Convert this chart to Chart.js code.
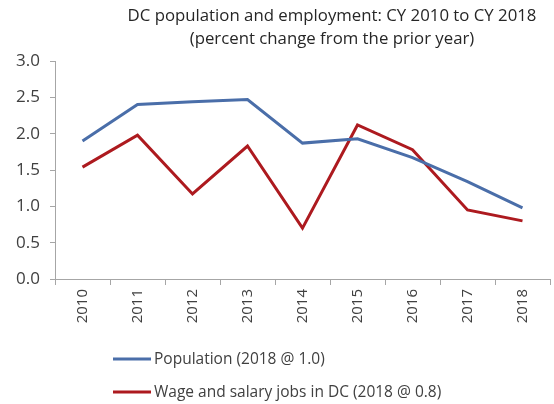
<!DOCTYPE html>
<html>
<head>
<meta charset="utf-8">
<script src="https://cdn.jsdelivr.net/npm/chart.js@4"></script>
<style>
    html, body { margin: 0; padding: 0; background: #fff; }
    #wrap { width: 554px; height: 404px; }
</style>
</head>
<body>
<div id="wrap"><canvas id="ctx"></canvas></div>
<script>
// 年度
let years = ['2010', '2011', '2012', '2013', '2014', '2015', '2016', '2017', '2018'];
// 人口年增率 (%)
let population = [1.90, 2.40, 2.44, 2.47, 1.87, 1.93, 1.67, 1.34, 0.98];
// 就業人數年增率 (%)
let jobs = [1.54, 1.98, 1.17, 1.83, 0.70, 2.12, 1.78, 0.95, 0.80];
// 標題文字
let title_lines = ['DC population and employment: CY 2010 to CY 2018', '(percent change from the prior year)'];
// 圖例文字
let series_names = ['Population (2018 @ 1.0)', 'Wage and salary jobs in DC (2018 @ 0.8)'];
// y 軸刻度
let y_ticks = [0, 0.5, 1, 1.5, 2, 2.5, 3];

let font_family = '"Open Sans", "DejaVu Sans", sans-serif';
let axis_color = '#a6a6a6';
let text_color = '#404040';

// 自繪標題與直列圖例
let titleLegend = {
    id: 'titleLegend',
    afterDraw(chart) {
        let c = chart.ctx;
        c.save();
        c.fillStyle = '#262626';
        c.font = '16.8px ' + font_family;
        c.textAlign = 'center';
        c.textBaseline = 'middle';
        title_lines.forEach((t, i) => c.fillText(t, 332, 16 + i * 23));

        // 圖例：每個資料集一列
        c.textAlign = 'left';
        c.font = '15.5px ' + font_family;
        chart.data.datasets.forEach((ds, i) => {
            let y = 359 + i * 33;
            c.strokeStyle = ds.borderColor;
            c.lineWidth = 3;
            c.beginPath();
            c.moveTo(113, y);
            c.lineTo(151, y);
            c.stroke();
            c.fillStyle = text_color;
            c.fillText(ds.label, 154, y + 1);
        });
        c.restore();
    }
};

let config = {
    type: 'line',
    data: {
        labels: years,
        datasets: [{
            label: series_names[0],
            data: population,
            borderColor: '#4a6ea9',
            borderWidth: 3,
            pointRadius: 0,
            tension: 0,
        }, {
            label: series_names[1],
            data: jobs,
            borderColor: '#ad1a1f',
            borderWidth: 3,
            pointRadius: 0,
            tension: 0,
        }]
    },
    options: {
        responsive: true,
        maintainAspectRatio: false,
        animation: false,
        layout: {
            padding: { top: 61, right: 4, bottom: 70, left: 0 }
        },
        plugins: {
            legend: { display: false },
            title: { display: false },
            tooltip: { enabled: false },
        },
        scales: {
            x: {
                offset: true,
                grid: {
                    offset: true,
                    drawOnChartArea: false,
                    drawTicks: true,
                    tickLength: 6,
                    color: axis_color,
                },
                border: { color: axis_color, width: 1 },
                ticks: {
                    minRotation: 90,
                    maxRotation: 90,
                    padding: 4,
                    color: text_color,
                    font: { family: font_family, size: 15 },
                },
                afterFit(scale) { scale.height = 55; },
            },
            y: {
                min: 0,
                max: 3,
                afterBuildTicks(scale) {
                    scale.ticks = y_ticks.map(v => ({ value: v }));
                },
                grid: {
                    drawOnChartArea: false,
                    drawTicks: true,
                    tickLength: 5,
                    color: axis_color,
                },
                border: { color: axis_color, width: 1 },
                ticks: {
                    padding: 10,
                    color: text_color,
                    font: { family: font_family, size: 17 },
                    callback: function (value) {
                        return Number(value).toFixed(1);
                    },
                },
                afterFit(scale) { scale.width = 55; },
            }
        }
    },
    plugins: [titleLegend]
};

let myCh = new Chart(document.getElementById('ctx'), config);
</script>
</body>
</html>
